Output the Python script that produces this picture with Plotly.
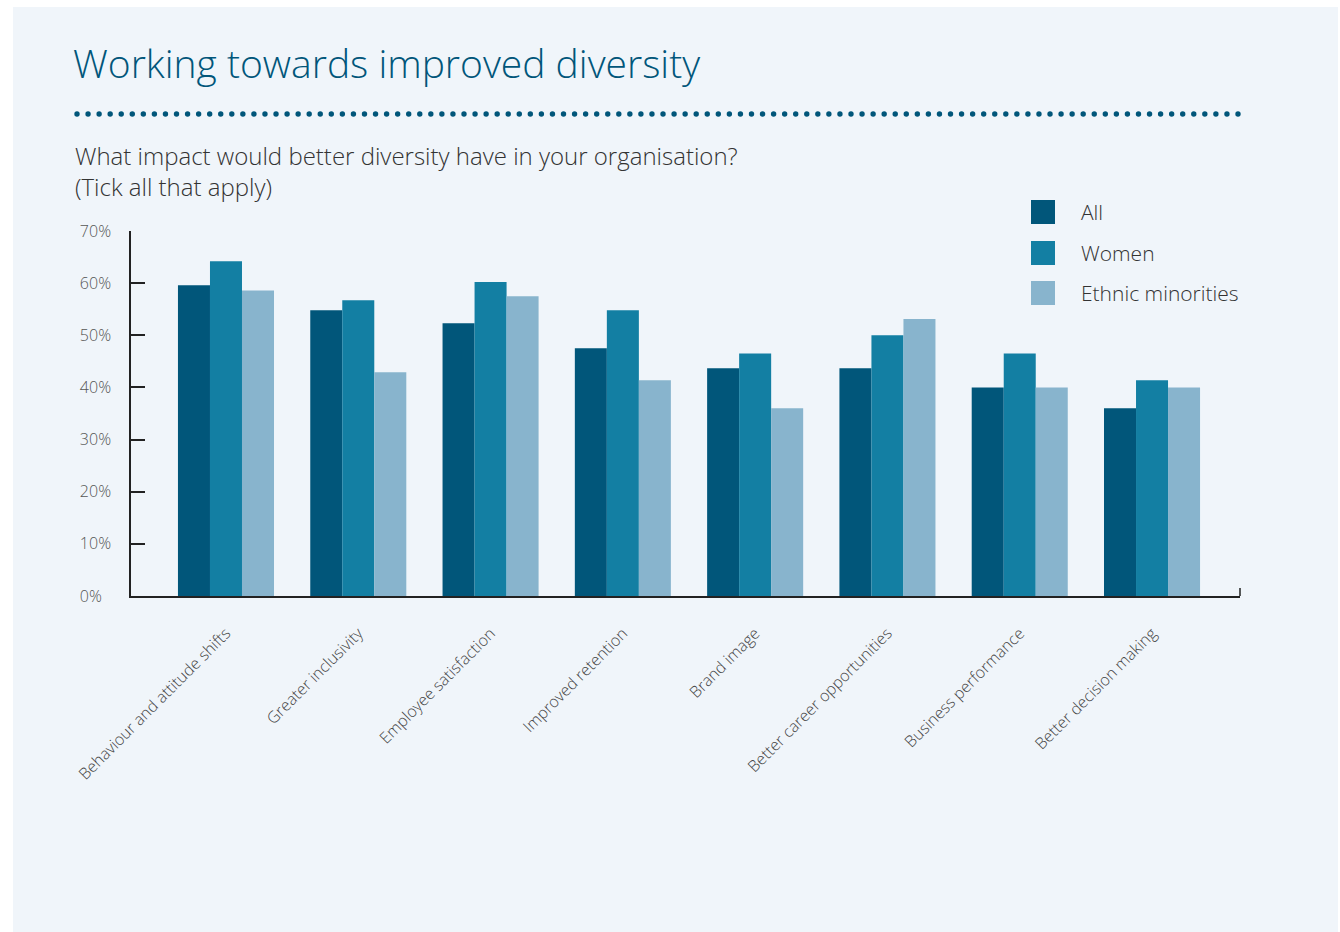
import numpy as np
import plotly.graph_objects as go

# Survey answers: share of respondents ticking each impact (%)
categories = [
    "Behaviour and attitude shifts",
    "Greater inclusivity",
    "Employee satisfaction",
    "Improved retention",
    "Brand image",
    "Better career opportunities",
    "Business performance",
    "Better decision making",
]
all_resp = [59.6, 54.8, 52.3, 47.5, 43.7, 43.7, 40.0, 36.0]
women = [64.2, 56.7, 60.2, 54.8, 46.5, 50.0, 46.5, 41.4]
ethnic_minorities = [58.6, 42.9, 57.5, 41.4, 36.0, 53.1, 40.0, 40.0]

series_names = ["All", "Women", "Ethnic minorities"]
series_colors = ["#01567A", "#137FA3", "#88B4CD"]

y_tick_vals = [0, 10, 20, 30, 40, 50, 60, 70]
y_tick_text = ["0%\u2007", "10%", "20%", "30%", "40%", "50%", "60%", "70%"]

TITLE = "Working towards improved diversity"
SUBTITLE = "What impact would better diversity have in your organisation?<br>(Tick all that apply)"

# Canvas / plot-area geometry in pixels
W, H = 1340, 932
L, R, T, B = 131, 1240, 231, 596
PANEL = "#F0F5FA"
DARK = "#01567A"
TEXT = "#333333"
FONT = "Open Sans"


def px_x(x):
    return (x - L) / (R - L)


def px_y(y):
    return (B - y) / (B - T)


fig = go.Figure()
for name, vals, col in zip(series_names, [all_resp, women, ethnic_minorities], series_colors):
    fig.add_trace(go.Bar(x=categories, y=vals, name=name, marker=dict(color=col, line=dict(width=0)),
                         showlegend=False))

shapes = []
# light background panel
shapes.append(dict(type="rect", xref="paper", yref="paper", layer="below",
                   x0=px_x(13), x1=px_x(1338), y0=px_y(932), y1=px_y(7),
                   fillcolor=PANEL, line=dict(width=0)))
# dotted rule under the title
for cx in np.linspace(77, 1238, 106):
    shapes.append(dict(type="circle", xref="paper", yref="paper",
                       xsizemode="pixel", ysizemode="pixel",
                       xanchor=px_x(cx), yanchor=px_y(114),
                       x0=-2.7, x1=2.7, y0=-2.7, y1=2.7,
                       fillcolor=DARK, line=dict(width=0)))
# end tick on the category axis
shapes.append(dict(type="line", xref="paper", yref="paper",
                   x0=1, x1=1, y0=0, y1=px_y(588),
                   line=dict(color="#222222", width=1.5)))

annotations = [
    dict(text=TITLE, xref="paper", yref="paper", x=px_x(71), y=px_y(63),
         xanchor="left", yanchor="middle", showarrow=False, align="left",
         font=dict(family=FONT, size=39, color=DARK, weight=300)),
    dict(text=SUBTITLE, xref="paper", yref="paper", x=px_x(73), y=px_y(171),
         xanchor="left", yanchor="middle", showarrow=False, align="left",
         font=dict(family=FONT, size=24, color=TEXT, weight=300)),
]

# legend: coloured squares with labels
legend_y = [212, 253, 293]
for name, col, ly in zip(series_names, series_colors, legend_y):
    shapes.append(dict(type="rect", xref="paper", yref="paper",
                       x0=px_x(1031), x1=px_x(1055), y0=px_y(ly + 12), y1=px_y(ly - 12),
                       fillcolor=col, line=dict(width=0)))
    annotations.append(dict(text=name, xref="paper", yref="paper", x=px_x(1079), y=px_y(ly),
                            xanchor="left", yanchor="middle", showarrow=False,
                            font=dict(family=FONT, size=21, color=TEXT, weight=300)))

fig.update_layout(
    width=W, height=H, autosize=False,
    margin=dict(l=L, r=W - R, t=T, b=H - B, pad=0),
    paper_bgcolor="white", plot_bgcolor=PANEL,
    barmode="group", bargap=0.274, bargroupgap=0,
    shapes=shapes, annotations=annotations,
    font=dict(family=FONT, color=TEXT),
)
fig.update_xaxes(
    range=[-0.718, 7.665], showgrid=False, zeroline=False,
    showline=True, linecolor="#222222", linewidth=1.5,
    ticks="", tickangle=-45, ticklabelstandoff=20,
    tickfont=dict(family=FONT, size=16, color="#444444", weight=300),
)
fig.update_yaxes(
    range=[0, 70], showgrid=False, zeroline=False,
    showline=True, linecolor="#222222", linewidth=1.5,
    ticks="inside", ticklen=14, tickwidth=1.5, tickcolor="#222222",
    tickvals=y_tick_vals, ticktext=y_tick_text, ticklabelstandoff=15,
    tickfont=dict(family=FONT, size=16, color="#555555", weight=300),
)

fig.write_html("out.html")
